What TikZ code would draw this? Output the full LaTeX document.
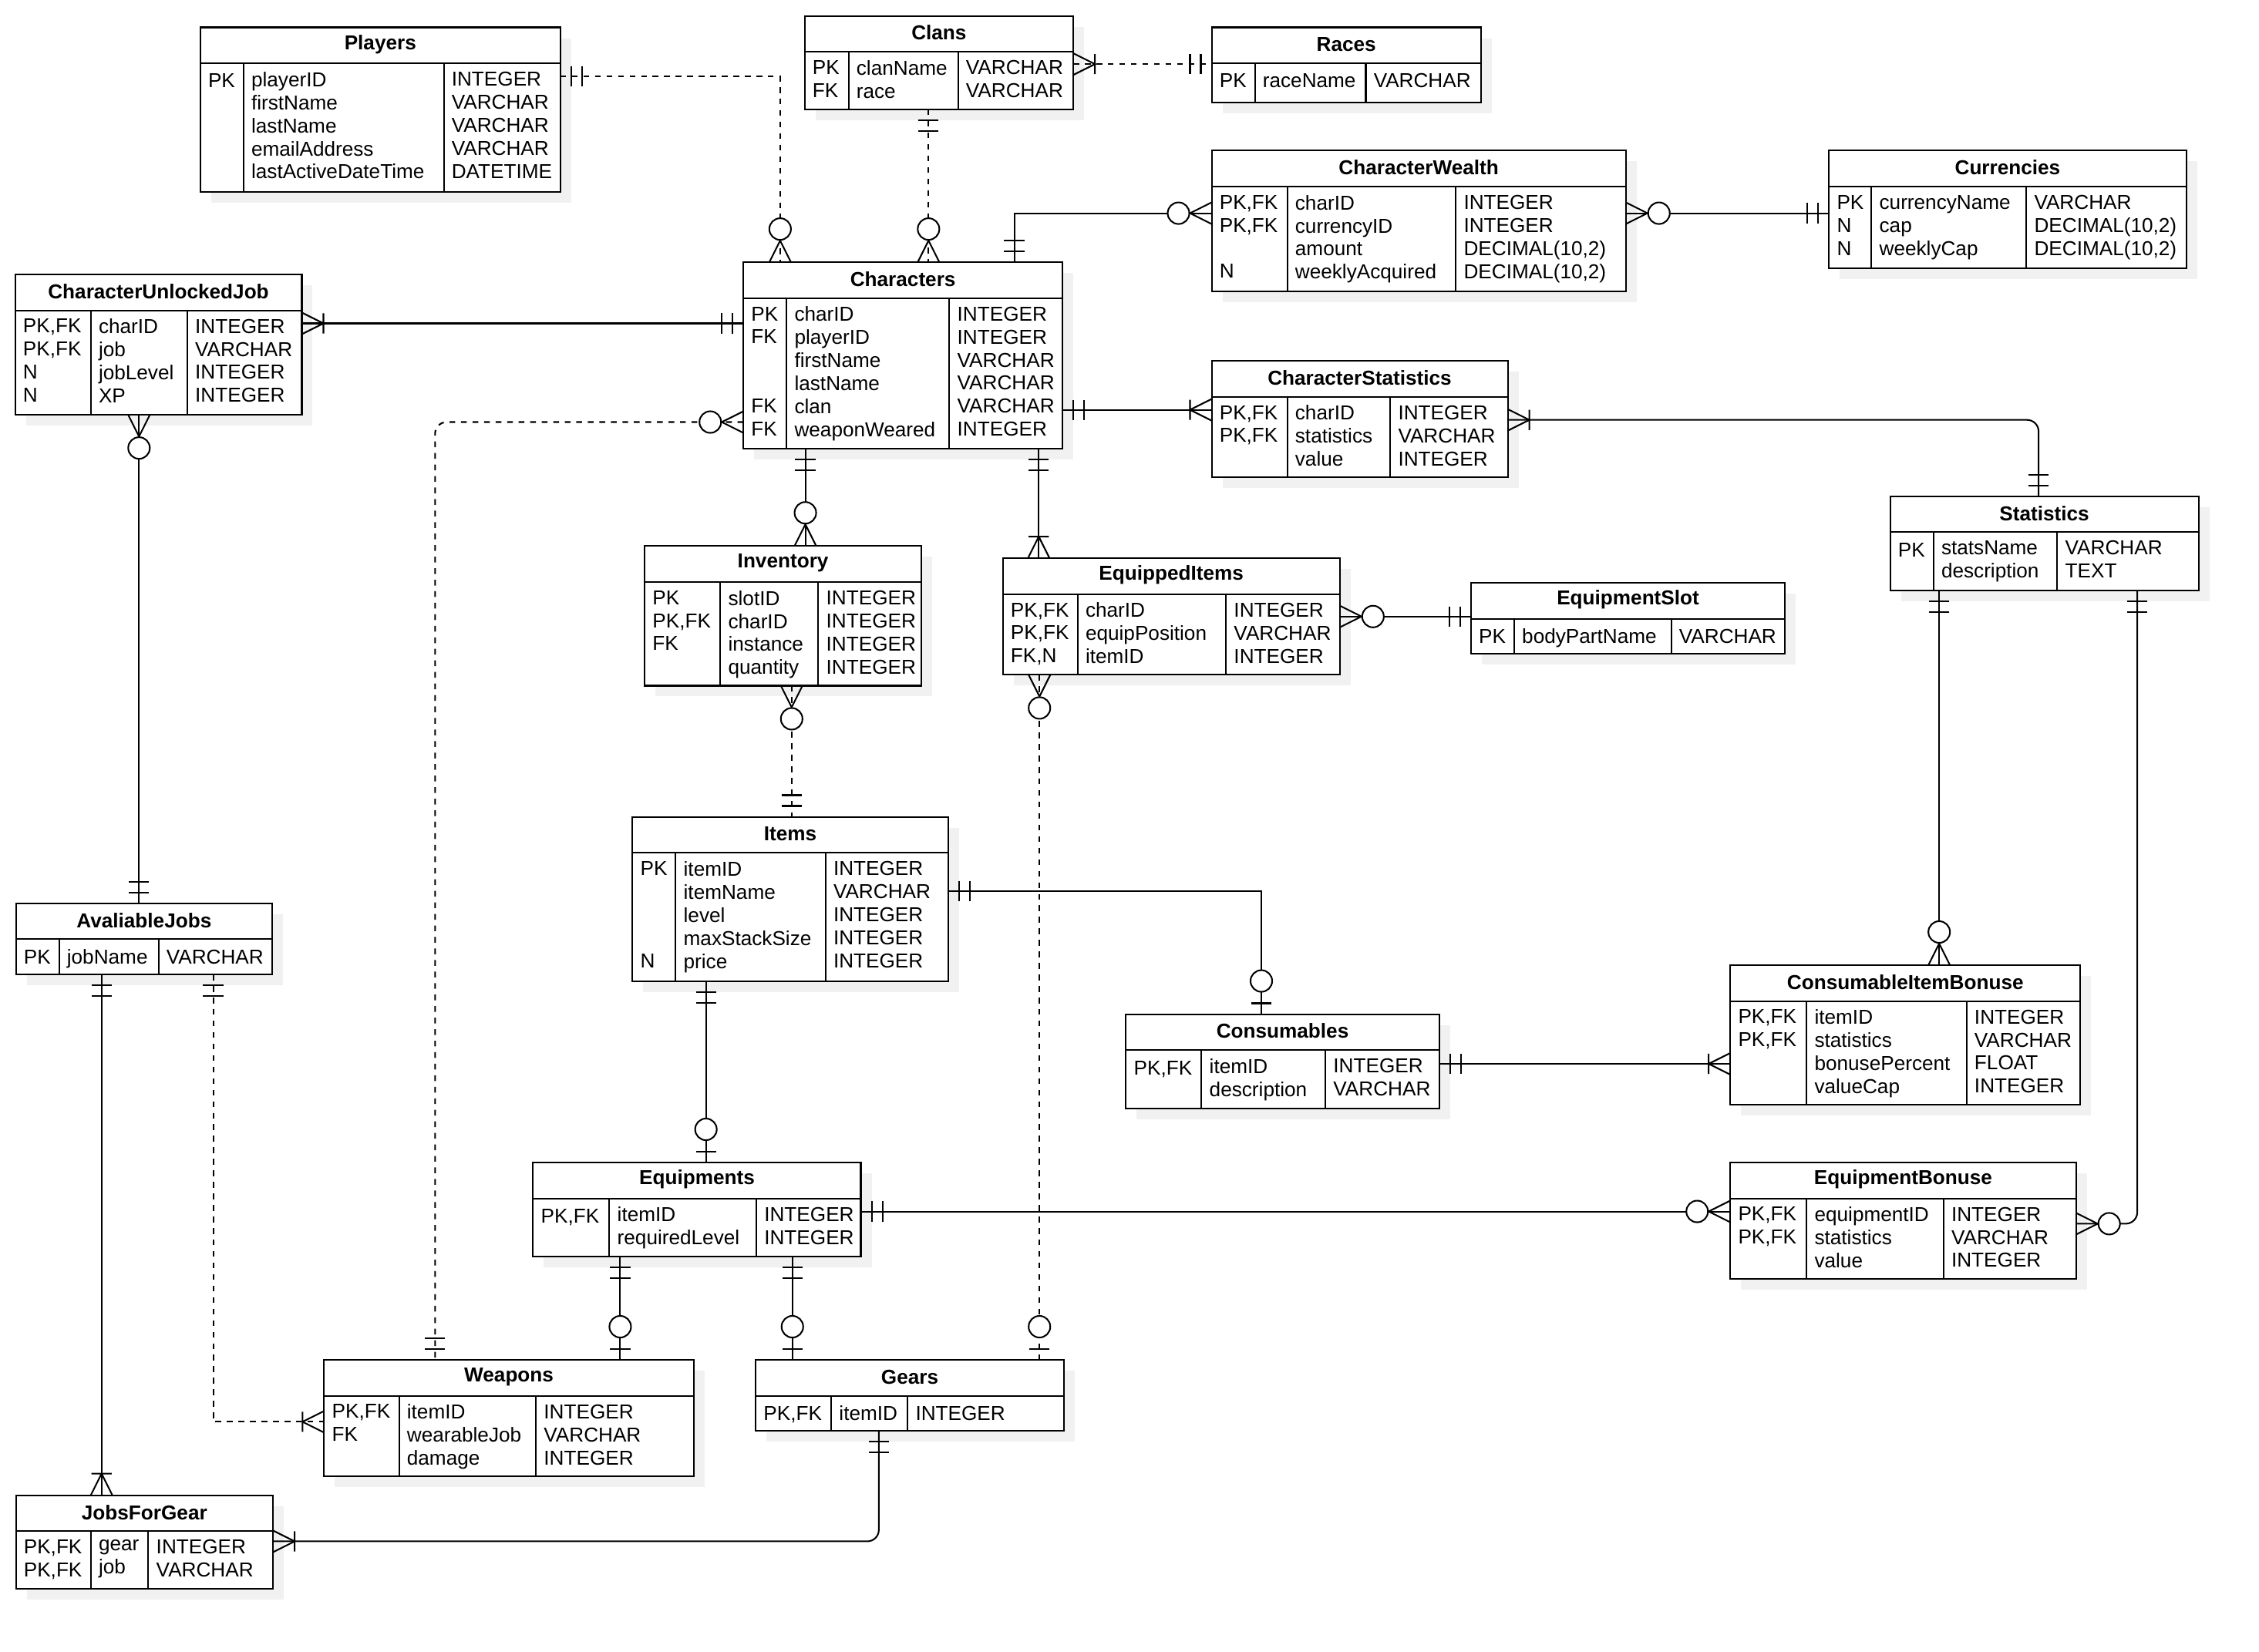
\documentclass[tikz,border=0pt]{standalone}
\usepackage{fontspec}
\setmainfont{Liberation Sans}
\definecolor{shadowgray}{HTML}{F1F1F1}
\tikzset{
  tbl/.style={draw, line width=1.1pt},
  tblbox/.style={tbl, fill=white, anchor=north west, inner sep=0, outer sep=0},
  tblhead/.style={inner sep=0, font=\fontsize{14}{16}\selectfont\bfseries},
  tblrows/.style={anchor=north west, inner sep=0, align=left, font=\fontsize{14}{16}\selectfont, execute at begin node=\rule{0pt}{11pt}},
  rel/.style={line width=1.1pt},
  reldash/.style={rel, dash pattern=on 4pt off 4pt},
  mandone/.pic={\draw[rel] (7.5,-7)--(7.5,7) (15,-7)--(15,7);},
  onemany/.pic={\draw[rel] (0,-7.5)--(15,0)--(0,7.5) (15,-7)--(15,7);},
  zeromany/.pic={\draw[rel] (0,-7.5)--(15,0)--(0,7.5); \draw[rel,fill=white] (23,0) circle (7.5);},
  zeroone/.pic={\draw[rel] (7.5,-7)--(7.5,7); \draw[rel,fill=white] (23,0) circle (7.5);}
}
\newcommand{\entity}[7]{%
  \def\curname{#1}\def\curx{#2}\def\cury{#3}\def\colA{#6}\def\colB{#7}%
  \fill[shadowgray] (#2+7.5,#3+7.5) rectangle (#4+7.5,#5+7.5);
  \node[tblbox, minimum width={(#4-#2)*1pt}, minimum height={(#5-#3)*1pt}] (#1) at (#2,#3) {};
  \node[tblhead] (#1-t) at ({(#2+#4)/2},#3+11.8) {#1};
  \draw[tbl] (#2,#3+25) -- (#4,#3+25) (#6,#3+25) -- (#6,#5) (#7,#3+25) -- (#7,#5);
}
\newcommand{\entityrows}[3]{%
  \node[tblrows] (\curname-k) at (\curx+5.3,\cury+30.8) {#1};
  \node[tblrows] (\curname-f) at (\colA+5.3,\cury+30.8) {#2};
  \node[tblrows] (\curname-y) at (\colB+5.3,\cury+30.8) {#3};
}
\newcommand{\relends}[4]{\pic[rotate=#2] at (a) {#1}; \pic[rotate=#4] at (b) {#3};}
\begin{document}
\begin{tikzpicture}[x=1pt,y=-1pt]
\useasboundingbox (0,0) rectangle (1568,1146.3);

\entity{Players}{139}{19}{389}{133}{169}{308}
\entityrows{PK}{playerID\\firstName\\lastName\\emailAddress\\lastActiveDateTime}{INTEGER\\VARCHAR\\VARCHAR\\VARCHAR\\DATETIME}
\entity{Clans}{558.5}{11}{745}{76}{589}{665}
\entityrows{PK\\FK}{clanName\\race}{VARCHAR\\VARCHAR}
\entity{Races}{841}{19}{1028}{71}{871}{948}
\entityrows{PK}{raceName}{VARCHAR}
\entity{CharacterWealth}{841}{104.5}{1128.5}{202.5}{893.5}{1010.5}
\entityrows{PK,FK\\PK,FK\\ \\N}{charID\\currencyID\\amount\\weeklyAcquired}{INTEGER\\INTEGER\\DECIMAL(10,2)\\DECIMAL(10,2)}
\entity{Currencies}{1269.5}{104.5}{1517.5}{186}{1299}{1406.5}
\entityrows{PK\\N\\N}{currencyName\\cap\\weeklyCap}{VARCHAR\\DECIMAL(10,2)\\DECIMAL(10,2)}
\entity{CharacterUnlockedJob}{10.5}{190.5}{209.5}{288}{63}{130}
\entityrows{PK,FK\\PK,FK\\N\\N}{charID\\job\\jobLevel\\XP}{INTEGER\\VARCHAR\\INTEGER\\INTEGER}
\entity{Characters}{516}{182}{737.5}{311.5}{546}{659}
\entityrows{PK\\FK\\ \\ \\FK\\FK}{charID\\playerID\\firstName\\lastName\\clan\\weaponWeared}{INTEGER\\INTEGER\\VARCHAR\\VARCHAR\\VARCHAR\\INTEGER}
\entity{CharacterStatistics}{841}{250.5}{1046.5}{331.5}{893.5}{965}
\entityrows{PK,FK\\PK,FK}{charID\\statistics\\value}{INTEGER\\VARCHAR\\INTEGER}
\entity{Statistics}{1312}{344.5}{1526}{410}{1342}{1428}
\entityrows{PK}{statsName\\description}{VARCHAR\\TEXT}
\entity{Inventory}{447.5}{379}{639.5}{476}{500}{568}
\entityrows{PK\\PK,FK\\FK}{slotID\\charID\\instance\\quantity}{INTEGER\\INTEGER\\INTEGER\\INTEGER}
\entity{EquippedItems}{696}{387.5}{930}{468.5}{748}{851}
\entityrows{PK,FK\\PK,FK\\FK,N}{charID\\equipPosition\\itemID}{INTEGER\\VARCHAR\\INTEGER}
\entity{EquipmentSlot}{1021}{404.5}{1239}{454}{1051}{1160}
\entityrows{PK}{bodyPartName}{VARCHAR}
\entity{Items}{439}{567}{658}{681}{469}{573}
\entityrows{PK\\ \\ \\ \\N}{itemID\\itemName\\level\\maxStackSize\\price}{INTEGER\\VARCHAR\\INTEGER\\INTEGER\\INTEGER}
\entity{AvaliableJobs}{11}{627}{189}{676.5}{41}{110}
\entityrows{PK}{jobName}{VARCHAR}
\entity{Consumables}{781.5}{704}{999}{769.5}{834}{920}
\entityrows{PK,FK}{itemID\\description}{INTEGER\\VARCHAR}
\entity{ConsumableItemBonuse}{1201}{670}{1444}{767}{1254}{1365}
\entityrows{PK,FK\\PK,FK}{itemID\\statistics\\bonusePercent\\valueCap}{INTEGER\\VARCHAR\\FLOAT\\INTEGER}
\entity{Equipments}{370}{807}{597.5}{872.5}{423}{525}
\entityrows{PK,FK}{itemID\\requiredLevel}{INTEGER\\INTEGER}
\entity{EquipmentBonuse}{1201}{807}{1441}{888}{1254}{1349}
\entityrows{PK,FK\\PK,FK}{equipmentID\\statistics\\value}{INTEGER\\VARCHAR\\INTEGER}
\entity{Weapons}{225}{944}{481.5}{1025}{277}{372}
\entityrows{PK,FK\\FK}{itemID\\wearableJob\\damage}{INTEGER\\VARCHAR\\INTEGER}
\entity{Gears}{524.5}{944}{738.5}{993}{577}{630}
\entityrows{PK,FK}{itemID}{INTEGER}
\entity{JobsForGear}{11}{1038}{189.5}{1103}{63}{103}
\entityrows{PK,FK\\PK,FK}{gear\\job}{INTEGER\\VARCHAR}

\draw[reldash] (Players.east |- 0,53) coordinate (a) -| (541.5,0 |- Characters.north) coordinate (b);
\relends{mandone}{0}{zeromany}{90}
\draw[reldash] (644.5,0 |- Clans.south) coordinate (a) -- (644.5,0 |- Characters.north) coordinate (b);
\relends{mandone}{-90}{zeromany}{90}
\draw[reldash] (Clans.east |- 0,44.5) coordinate (a) -- (Races.west |- 0,44.5) coordinate (b);
\relends{onemany}{0}{mandone}{180}
\draw[rel] (704,0 |- Characters.north) coordinate (a) |- (CharacterWealth.west |- 0,148) coordinate (b);
\relends{mandone}{90}{zeromany}{180}
\draw[rel] (CharacterWealth.east |- 0,148) coordinate (a) -- (Currencies.west |- 0,148) coordinate (b);
\relends{zeromany}{0}{mandone}{180}
\draw[rel] (CharacterUnlockedJob.east |- 0,224.5) coordinate (a) -- (Characters.west |- 0,224.5) coordinate (b);
\relends{onemany}{0}{mandone}{180}
\draw[rel] (96.5,0 |- CharacterUnlockedJob.south) coordinate (a) -- (96.5,0 |- AvaliableJobs.north) coordinate (b);
\relends{zeromany}{-90}{mandone}{90}
\draw[reldash, rounded corners=8pt] (Characters.west |- 0,293) coordinate (a) -| (302,0 |- Weapons.north) coordinate (b);
\relends{zeromany}{180}{mandone}{90}
\draw[rel] (559,0 |- Characters.south) coordinate (a) -- (559,0 |- Inventory.north) coordinate (b);
\relends{mandone}{-90}{zeromany}{90}
\draw[rel] (721,0 |- Characters.south) coordinate (a) -- (721,0 |- EquippedItems.north) coordinate (b);
\relends{mandone}{-90}{onemany}{90}
\draw[rel] (Characters.east |- 0,284.5) coordinate (a) -- (CharacterStatistics.west |- 0,284.5) coordinate (b);
\relends{mandone}{0}{onemany}{180}
\draw[rel, rounded corners=8pt] (CharacterStatistics.east |- 0,291.5) coordinate (a) -| (1415,0 |- Statistics.north) coordinate (b);
\relends{onemany}{0}{mandone}{90}
\draw[rel] (EquippedItems.east |- 0,428) coordinate (a) -- (EquipmentSlot.west |- 0,428) coordinate (b);
\relends{zeromany}{0}{mandone}{180}
\draw[reldash] (549.5,0 |- Inventory.south) coordinate (a) -- (549.5,0 |- Items.north) coordinate (b);
\relends{zeromany}{-90}{mandone}{90}
\draw[reldash] (721.5,0 |- EquippedItems.south) coordinate (a) -- (721.5,0 |- Gears.north) coordinate (b);
\relends{zeromany}{-90}{zeroone}{90}
\draw[rel] (Items.east |- 0,618.5) coordinate (a) -| (875.5,0 |- Consumables.north) coordinate (b);
\relends{mandone}{0}{zeroone}{90}
\draw[rel] (490,0 |- Items.south) coordinate (a) -- (490,0 |- Equipments.north) coordinate (b);
\relends{mandone}{-90}{zeroone}{90}
\draw[rel] (Consumables.east |- 0,738.5) coordinate (a) -- (ConsumableItemBonuse.west |- 0,738.5) coordinate (b);
\relends{mandone}{0}{onemany}{180}
\draw[rel] (1346,0 |- Statistics.south) coordinate (a) -- (1346,0 |- ConsumableItemBonuse.north) coordinate (b);
\relends{mandone}{-90}{zeromany}{90}
\draw[rel, rounded corners=8pt] (1483.5,0 |- Statistics.south) coordinate (a) |- (EquipmentBonuse.east |- 0,849.5) coordinate (b);
\relends{mandone}{-90}{zeromany}{0}
\draw[rel] (Equipments.east |- 0,841) coordinate (a) -- (EquipmentBonuse.west |- 0,841) coordinate (b);
\relends{mandone}{0}{zeromany}{180}
\draw[rel] (430.5,0 |- Equipments.south) coordinate (a) -- (430.5,0 |- Weapons.north) coordinate (b);
\relends{mandone}{-90}{zeroone}{90}
\draw[rel] (550,0 |- Equipments.south) coordinate (a) -- (550,0 |- Gears.north) coordinate (b);
\relends{mandone}{-90}{zeroone}{90}
\draw[rel] (70.5,0 |- AvaliableJobs.south) coordinate (a) -- (70.5,0 |- JobsForGear.north) coordinate (b);
\relends{mandone}{-90}{onemany}{90}
\draw[reldash] (148,0 |- AvaliableJobs.south) coordinate (a) |- (Weapons.west |- 0,987) coordinate (b);
\relends{mandone}{-90}{onemany}{180}
\draw[rel, rounded corners=8pt] (610,0 |- Gears.south) coordinate (a) |- (JobsForGear.east |- 0,1070) coordinate (b);
\relends{mandone}{-90}{onemany}{0}
\end{tikzpicture}
\end{document}
